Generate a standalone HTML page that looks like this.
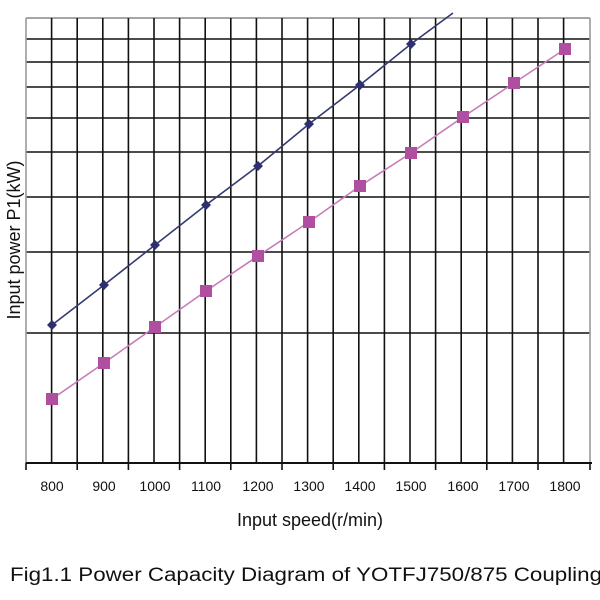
<!DOCTYPE html>
<html><head><style>body{margin:0;background:#fff}svg{display:block}</style></head><body>
<svg width="600" height="600" xmlns="http://www.w3.org/2000/svg" font-family="Liberation Sans, sans-serif">
<rect width="600" height="600" fill="#fff"/>
<g stroke="#111" stroke-width="1.6">
<line x1="26" y1="18" x2="590" y2="18" stroke="#888"/>
<line x1="26" y1="39" x2="590" y2="39"/>
<line x1="26" y1="62" x2="590" y2="62"/>
<line x1="26" y1="87" x2="590" y2="87"/>
<line x1="26" y1="118" x2="590" y2="118"/>
<line x1="26" y1="152" x2="590" y2="152"/>
<line x1="26" y1="197" x2="590" y2="197"/>
<line x1="26" y1="252" x2="590" y2="252"/>
<line x1="26" y1="333" x2="590" y2="333"/>
<line x1="26" y1="18" x2="26" y2="463" stroke="#999"/>
<line x1="590" y1="18" x2="590" y2="463" stroke="#999"/>
<line x1="26" y1="463" x2="592" y2="463" stroke-width="2"/>
</g>
<g stroke="#111" stroke-width="1.6">
<line x1="51.6" y1="18" x2="51.6" y2="463"/><line x1="77.2" y1="18" x2="77.2" y2="470"/><line x1="102.8" y1="18" x2="102.8" y2="463"/><line x1="128.4" y1="18" x2="128.4" y2="470"/><line x1="154" y1="18" x2="154" y2="463"/><line x1="179.6" y1="18" x2="179.6" y2="470"/><line x1="205.2" y1="18" x2="205.2" y2="463"/><line x1="230.8" y1="18" x2="230.8" y2="470"/><line x1="256.4" y1="18" x2="256.4" y2="463"/><line x1="282" y1="18" x2="282" y2="470"/><line x1="307.6" y1="18" x2="307.6" y2="463"/><line x1="333.2" y1="18" x2="333.2" y2="470"/><line x1="358.8" y1="18" x2="358.8" y2="463"/><line x1="384.4" y1="18" x2="384.4" y2="470"/><line x1="410" y1="18" x2="410" y2="463"/><line x1="435.6" y1="18" x2="435.6" y2="470"/><line x1="461.2" y1="18" x2="461.2" y2="463"/><line x1="486.8" y1="18" x2="486.8" y2="470"/><line x1="512.4" y1="18" x2="512.4" y2="463"/><line x1="538" y1="18" x2="538" y2="470"/><line x1="563.6" y1="18" x2="563.6" y2="463"/>
<line x1="26" y1="463" x2="26" y2="470"/><line x1="590" y1="463" x2="590" y2="470"/>
</g>
<polyline fill="none" stroke="#333a70" stroke-width="1.6" points="52,325 104,285 155,245 206,205 258,166 309,124 360,85 411,44 453,13"/>
<polyline fill="none" stroke="#c77cba" stroke-width="1.6" points="52,399 104,363 155,327 206,291 258,256 309,222 360,186 411,153 463,117 514,83 565,49"/>
<g fill="#2e2f70">
<path d="M52,320 l5,5 -5,5 -5,-5z"/><path d="M104,280 l5,5 -5,5 -5,-5z"/><path d="M155,240 l5,5 -5,5 -5,-5z"/><path d="M206,200 l5,5 -5,5 -5,-5z"/><path d="M258,161 l5,5 -5,5 -5,-5z"/><path d="M309,119 l5,5 -5,5 -5,-5z"/><path d="M360,80 l5,5 -5,5 -5,-5z"/><path d="M411,39 l5,5 -5,5 -5,-5z"/>
</g>
<g fill="#b04fa0">
<rect x="46" y="393" width="12" height="12"/><rect x="98" y="357" width="12" height="12"/><rect x="149" y="321" width="12" height="12"/><rect x="200" y="285" width="12" height="12"/><rect x="252" y="250" width="12" height="12"/><rect x="303" y="216" width="12" height="12"/><rect x="354" y="180" width="12" height="12"/><rect x="405" y="147" width="12" height="12"/><rect x="457" y="111" width="12" height="12"/><rect x="508" y="77" width="12" height="12"/><rect x="559" y="43" width="12" height="12"/>
</g>
<g font-size="14" fill="#111" text-anchor="middle">
<text x="52" y="491">800</text><text x="104" y="491">900</text><text x="155" y="491">1000</text><text x="206" y="491">1100</text><text x="258" y="491">1200</text><text x="309" y="491">1300</text><text x="360" y="491">1400</text><text x="411" y="491">1500</text><text x="463" y="491">1600</text><text x="514" y="491">1700</text><text x="565" y="491">1800</text>
</g>
<text x="310" y="526" font-size="18" text-anchor="middle" fill="#111">Input speed(r/min)</text>
<text transform="translate(20,240) rotate(-90)" font-size="18" text-anchor="middle" fill="#111">Input power P1(kW)</text>
<text x="10" y="581" font-size="19" fill="#111" textLength="592" lengthAdjust="spacingAndGlyphs">Fig1.1 Power Capacity Diagram of YOTFJ750/875 Coupling</text>
</svg>
</body></html>
